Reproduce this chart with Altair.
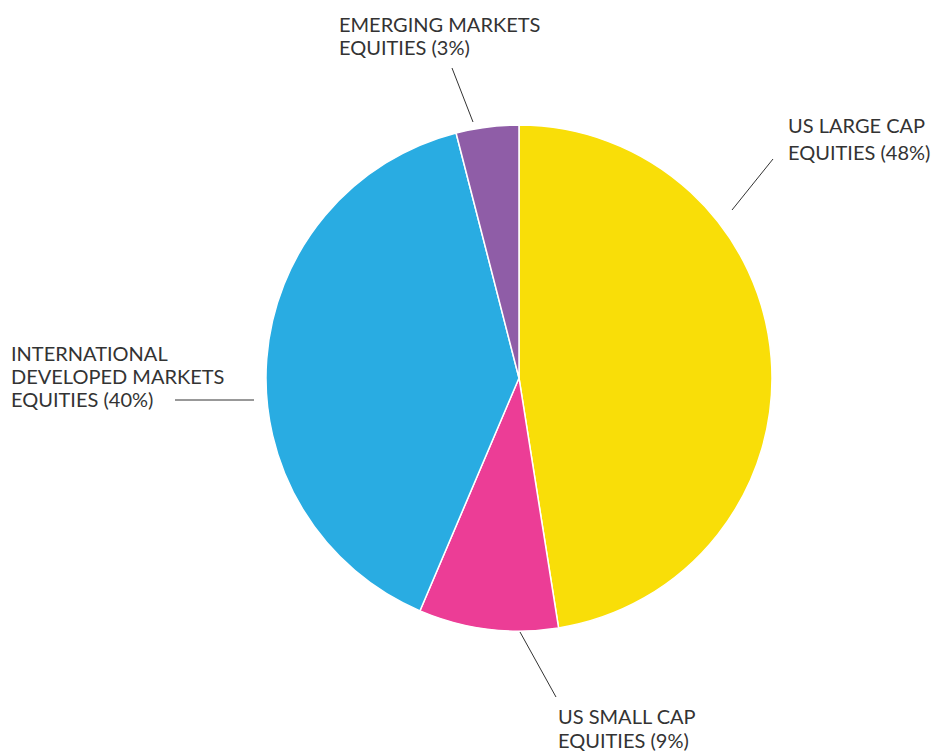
import altair as alt
import pandas as pd

# Data
categories = ["US LARGE CAP EQUITIES", "US SMALL CAP EQUITIES",
              "INTERNATIONAL DEVELOPED MARKETS EQUITIES", "EMERGING MARKETS EQUITIES"]
values = [47.5, 8.9, 39.6, 4.0]
label_pct = ["48%", "9%", "40%", "3%"]
label_lines = [
    ["US LARGE CAP", "EQUITIES (48%)"],
    ["US SMALL CAP", "EQUITIES (9%)"],
    ["INTERNATIONAL", "DEVELOPED MARKETS", " EQUITIES (40%)"],
    ["EMERGING MARKETS", "EQUITIES (3%)"],
]
colors = ["#F9DE08", "#EC3D96", "#29ACE2", "#8F5DA7"]

# Layout (plot-area pixels)
W, H = 923, 746
CX, CY, R = 511, 370, 253
label_pos = [(780, 125, 27), (550, 716, 24), (3, 353, 23), (331, 24, 23)]
leader = [((765, 151), (724, 202)), ((512, 624), (548, 689)),
          ((167, 392), (246, 392)), ((444, 60), (465, 114))]

pie_df = pd.DataFrame({"cat": categories, "value": values, "order": range(len(categories))})

pie = alt.Chart(pie_df).mark_arc(stroke="white", strokeWidth=1.5, radius=R).encode(
    theta=alt.Theta("value:Q", stack=True),
    order=alt.Order("order:Q"),
    color=alt.Color("cat:N", scale=alt.Scale(domain=categories, range=colors), legend=None),
    x=alt.value(CX),
    y=alt.value(CY),
)

xs = alt.Scale(domain=[0, W], range=[0, W])
ys = alt.Scale(domain=[0, H], range=[0, H])

lines_df = pd.DataFrame({
    "x": [a[0] for a, b in leader], "y": [a[1] for a, b in leader],
    "x2": [b[0] for a, b in leader], "y2": [b[1] for a, b in leader],
})
rules = alt.Chart(lines_df).mark_rule(color="#333333", strokeWidth=1).encode(
    x=alt.X("x:Q", scale=xs, axis=None),
    y=alt.Y("y:Q", scale=ys, axis=None),
    x2="x2:Q",
    y2="y2:Q",
)

texts = []
for lines, (tx, ty, lh) in zip(label_lines, label_pos):
    tdf = pd.DataFrame({"x": [tx], "y": [ty], "t": ["\n".join(lines)]})
    texts.append(
        alt.Chart(tdf).mark_text(
            align="left", baseline="alphabetic", font="Lato", fontSize=20,
            color="#333333", lineBreak="\n", lineHeight=lh,
        ).encode(
            x=alt.X("x:Q", scale=xs, axis=None),
            y=alt.Y("y:Q", scale=ys, axis=None),
            text="t:N",
        )
    )

chart = alt.layer(pie, rules, *texts).properties(
    width=W, height=H, padding=0, autosize=alt.AutoSizeParams(type="none")
).configure_view(stroke=None).resolve_scale(color="independent")

chart.save("out.html", embed_options={"renderer": "svg", "actions": False})
